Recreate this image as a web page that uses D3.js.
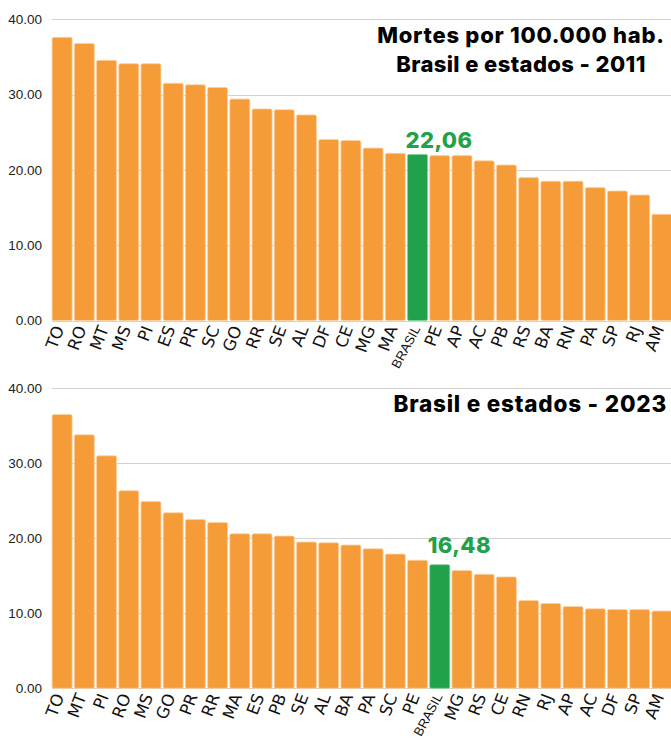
<!DOCTYPE html>
<html><head><meta charset="utf-8">
<script src="https://cdn.jsdelivr.net/npm/d3@7"></script>
<style>
html,body{margin:0;padding:0;background:#fff;}
svg{display:block;}
</style></head>
<body>
<script>
// ---- DATA ----
const states2011 = ["TO","RO","MT","MS","PI","ES","PR","SC","GO","RR","SE","AL","DF","CE","MG","MA","BRASIL","PE","AP","AC","PB","RS","BA","RN","PA","SP","RJ","AM"];
const values2011 = [37.6,36.8,34.55,34.1,34.1,31.5,31.3,30.95,29.4,28.1,28.0,27.3,24.05,23.9,22.9,22.2,22.06,21.9,21.9,21.2,20.65,18.98,18.5,18.5,17.65,17.2,16.67,14.1];
const states2023 = ["TO","MT","PI","RO","MS","GO","PR","RR","MA","ES","PB","SE","AL","BA","PA","SC","PE","BRASIL","MG","RS","CE","RN","RJ","AP","AC","DF","SP","AM"];
const values2023 = [36.5,33.8,31.0,26.35,24.9,23.4,22.5,22.1,20.6,20.6,20.3,19.5,19.4,19.1,18.6,17.9,17.07,16.48,15.7,15.2,14.85,11.7,11.3,10.9,10.6,10.5,10.5,10.3];
const yTicks = [0,10,20,30,40];
const highlightLabel2011 = "22,06";
const highlightLabel2023 = "16,48";
const title2011 = ["Mortes por 100.000 hab.","Brasil e estados - 2011"];
const title2023 = ["Brasil e estados - 2023"];

const W = 671, H = 740;
const ORANGE = "#f59c39", GREEN = "#21a14a";
const svg = d3.select("body").append("svg").attr("width", W).attr("height", H)
  .style("background","#fff");

function panel(cfg){
  const {states, values, y0, y40, hlText, hlOffset} = cfg;
  const x = d3.scaleBand().domain(states).range([51, 673]).paddingInner(0.1).paddingOuter(0.05);
  const y = d3.scaleLinear().domain([0,40]).range([y0, y40]);
  const g = svg.append("g");
  // grid
  g.selectAll("line.grid").data(yTicks).join("line")
    .attr("x1", 52).attr("x2", 671)
    .attr("y1", d=>Math.round(y(d))+0.5).attr("y2", d=>Math.round(y(d))+0.5)
    .attr("stroke","#d2d2d2").attr("stroke-width",1);
  // y labels
  g.selectAll("text.yl").data(yTicks).join("text")
    .attr("x", 42).attr("y", d=>y(d)).attr("dy","0.35em")
    .attr("text-anchor","end")
    .attr("font-family","'Liberation Sans', Arial, sans-serif")
    .attr("font-size",13.5).attr("fill","#222")
    .text(d=>d.toFixed(2));
  // bars
  const data = states.map((s,i)=>({s, v: values[i]}));
  g.selectAll("rect.bar").data(data).join("rect")
    .attr("x", d=>x(d.s)).attr("width", x.bandwidth())
    .attr("y", d=>y(d.v)).attr("height", d=>y(0)-y(d.v))
    .attr("rx",1.5)
    .attr("fill", d=>d.s==="BRASIL"?GREEN:ORANGE)
    .attr("stroke", d=>d.s==="BRASIL"?"#7fcf98":"#fbd0a0").attr("stroke-width",0.8);
  // x labels
  g.selectAll("text.xl").data(data).join("text")
    .attr("transform", d=>`translate(${x(d.s)+x.bandwidth()/2 - (d.s==="BRASIL"?1:3)},${y0+6}) rotate(${d.s==="BRASIL"?-62:-69})`)
    .attr("text-anchor","end").attr("dy","0.35em")
    .attr("font-family", d=>d.s==="BRASIL"?"'Liberation Sans', Arial, sans-serif":"'DejaVu Sans', sans-serif")
    .attr("font-size", d=>d.s==="BRASIL"?13:16.5)
    .attr("fill","#111")
    .text(d=>d.s);
  // highlight label
  const b = data.find(d=>d.s==="BRASIL");
  g.append("text")
    .attr("x", x(b.s)-2).attr("y", y(b.v)-hlOffset)
    .attr("font-family","Inter, 'Open Sans', sans-serif").attr("font-weight",800)
    .attr("font-size",22).attr("letter-spacing",0.4).attr("fill",GREEN)
    .text(hlText);
}

panel({states: states2011, values: values2011, y0: 320.5, y40: 19.3, hlText: highlightLabel2011, hlOffset: 6});
panel({states: states2023, values: values2023, y0: 688.3, y40: 388.3, hlText: highlightLabel2023, hlOffset: 12});

// titles
const tf = "Inter, 'DejaVu Sans', sans-serif";
svg.append("g").selectAll("text").data(title2011).join("text")
  .attr("x", 521).attr("y", (d,i)=>43+i*28.5)
  .attr("text-anchor","middle").attr("font-family",tf).attr("font-weight",800)
  .attr("font-size",22).attr("letter-spacing",(d,i)=>i===0?0.75:0.4).attr("fill","#000").text(d=>d);
svg.append("g").selectAll("text").data(title2023).join("text")
  .attr("x", 667).attr("y", 411.5)
  .attr("text-anchor","end").attr("font-family",tf).attr("font-weight",800)
  .attr("font-size",22.5).attr("letter-spacing",0.8).attr("fill","#000").text(d=>d);
</script>
</body></html>
